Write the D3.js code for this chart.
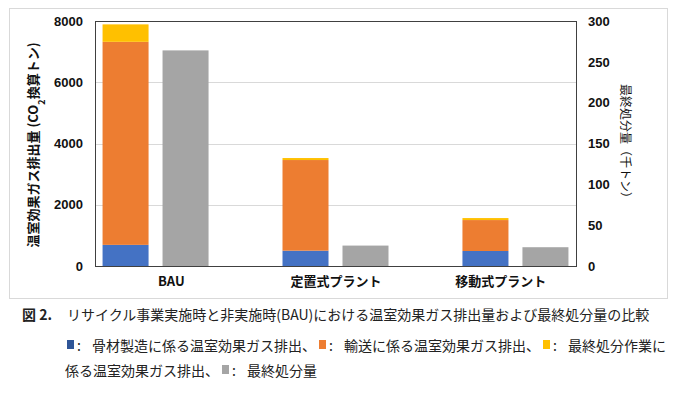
<!DOCTYPE html>
<html lang="ja">
<head>
<meta charset="UTF-8" />
<title>温室効果ガス排出量および最終処分量の比較</title>
<style>
  body { margin: 0; background: #fff; }
  text { font-family: "Liberation Sans", "Noto Sans CJK JP", sans-serif; }
  .jp { font-family: "Noto Sans CJK JP", sans-serif; }
</style>
</head>
<body>
<svg id="svg" width="680" height="395"></svg>
<script src="https://cdn.jsdelivr.net/npm/d3@7"></script>
<script>
const categories = ["BAU", "定置式プラント", "移動式プラント"]
// 温室効果ガス排出量 (CO2換算トン) - stacked
const seriesNames = ["骨材製造", "輸送", "最終処分作業"]
const aggregate = [690, 500, 490]
const transport = [6630, 2960, 1010]
const disposalWork = [570, 65, 65]
// 最終処分量 (千トン) - secondary axis
const disposal = [264, 25, 23]
const leftTicks = [0, 2000, 4000, 6000, 8000]
const rightTicks = [0, 50, 100, 150, 200, 250, 300]

const colors = ["#4472C4", "#ED7D31", "#FFC000"]
const gray = "#A5A5A5"

const svg = d3.select("#svg")
const margin = { top: 21, left: 95, right: 104, bottom: 129 }
const width = 680, height = 395
const innerW = width - margin.left - margin.right
const innerH = height - margin.top - margin.bottom

// outer light frame
svg.append("rect")
  .attr("x", 9.5).attr("y", 8.5)
  .attr("width", 658).attr("height", 290)
  .attr("fill", "none").attr("stroke", "#d9d9d9")

const g = svg.append("g").attr("transform", `translate(${margin.left},${margin.top})`)

const yL = d3.scaleLinear().domain([0, 8000]).range([innerH, 0])
const yR = d3.scaleLinear().domain([0, 300]).range([innerH, 0])

const x0 = d3.scaleBand().domain(categories).range([0, innerW])
  .paddingInner(0.411).paddingOuter(0.042)
const x1 = d3.scaleBand().domain(["stack", "disposal"]).range([0, x0.bandwidth()])
  .paddingInner(0.233)
const xLabel = d3.scalePoint().domain(categories).range([0, innerW]).padding(0.46)

// gridlines
g.append("g").selectAll("line")
  .data(leftTicks.filter(d => d > 0 && d < 8000))
  .join("line")
  .attr("x1", 0).attr("x2", innerW)
  .attr("y1", d => Math.round(yL(d)) + 0.5).attr("y2", d => Math.round(yL(d)) + 0.5)
  .attr("stroke", "#d9d9d9")

// stacked bars
const rows = categories.map((c, i) => ({
  cat: c, 0: aggregate[i], 1: transport[i], 2: disposalWork[i]
}))
const stack = d3.stack().keys([0, 1, 2])(rows)
g.append("g").selectAll("g")
  .data(stack)
  .join("g")
  .attr("fill", (d, i) => colors[i])
  .selectAll("rect")
  .data(d => d)
  .join("rect")
  .attr("x", d => x0(d.data.cat) + x1("stack"))
  .attr("y", d => yL(d[1]))
  .attr("width", x1.bandwidth())
  .attr("height", d => yL(d[0]) - yL(d[1]))

// disposal bars (secondary)
g.append("g").selectAll("rect")
  .data(categories.map((c, i) => ({ cat: c, v: disposal[i] })))
  .join("rect")
  .attr("x", d => x0(d.cat) + x1("disposal"))
  .attr("y", d => yR(d.v))
  .attr("width", x1.bandwidth())
  .attr("height", d => innerH - yR(d.v))
  .attr("fill", gray)

// plot frame
g.append("rect")
  .attr("x", 0.5).attr("y", 0.5)
  .attr("width", innerW).attr("height", innerH)
  .attr("fill", "none").attr("stroke", "#404040")

// axes
const leftAxis = g.append("g")
  .call(d3.axisLeft(yL).tickValues(leftTicks).tickSize(0).tickPadding(12).tickFormat(d3.format("d")))
leftAxis.select(".domain").remove()
leftAxis.selectAll("text")
  .style("font-size", "13px").style("font-weight", "bold").attr("fill", "#111")

const rightAxis = g.append("g").attr("transform", `translate(${innerW},0)`)
  .call(d3.axisRight(yR).tickValues(rightTicks).tickSize(0).tickPadding(12))
rightAxis.select(".domain").remove()
rightAxis.selectAll("text")
  .style("font-size", "13px").style("font-weight", "bold").attr("fill", "#111")

const bottomAxis = g.append("g").attr("transform", `translate(0,${innerH})`)
  .call(d3.axisBottom(xLabel).tickSize(0).tickPadding(11))
bottomAxis.select(".domain").remove()
bottomAxis.selectAll("text")
  .attr("class", "jp")
  .style("font-size", "13px").style("font-weight", "bold").attr("fill", "#111")

// axis titles
const lt = svg.append("text")
  .attr("class", "jp")
  .attr("transform", "translate(38,145) rotate(-90)")
  .attr("text-anchor", "middle")
  .style("font-size", "13px").style("font-weight", "bold").attr("fill", "#111")
lt.append("tspan").text("温室効果ガス排出量 (CO")
lt.append("tspan").attr("baseline-shift", "sub").style("font-size", "9px").text("2")
lt.append("tspan").text("換算トン)")

svg.append("text")
  .attr("class", "jp")
  .attr("transform", "translate(621,144) rotate(90)")
  .attr("text-anchor", "middle")
  .style("font-size", "12px").attr("fill", "#111")
  .text("最終処分量（千トン）")

// caption
svg.append("text").attr("class", "jp")
  .attr("x", 22).attr("y", 320)
  .style("font-size", "14px").style("font-weight", "bold").attr("fill", "#222")
  .text("図 2.")
svg.append("text").attr("class", "jp")
  .attr("x", 67).attr("y", 320)
  .style("font-size", "14px").attr("fill", "#222")
  .text("リサイクル事業実施時と非実施時(BAU)における温室効果ガス排出量および最終処分量の比較")

// legend, laid out by measuring text
const legendLines = [
  [
    { color: "#2F5597", text: "骨材製造に係る温室効果ガス排出、" },
    { color: colors[1], text: "輸送に係る温室効果ガス排出、" },
    { color: colors[2], text: "最終処分作業に" }
  ],
  [
    { color: null, text: "係る温室効果ガス排出、" },
    { color: gray, text: "最終処分量" }
  ]
]
const lineY = [351, 376]
const lineX = [67, 65]
legendLines.forEach((items, li) => {
  let x = lineX[li]
  const y = lineY[li]
  items.forEach(it => {
    if (it.color) {
      svg.append("rect").attr("x", x).attr("y", y - 11)
        .attr("width", 7).attr("height", 9).attr("fill", it.color)
      svg.append("text").attr("class", "jp").attr("x", x + 10).attr("y", y)
        .style("font-size", "14px").attr("fill", "#222").text(":")
      x += 25
    }
    const t = svg.append("text").attr("class", "jp").attr("x", x).attr("y", y)
      .style("font-size", "14px").attr("fill", "#222").text(it.text)
    x += t.node().getComputedTextLength() + 3
  })
})
</script>
</body>
</html>
